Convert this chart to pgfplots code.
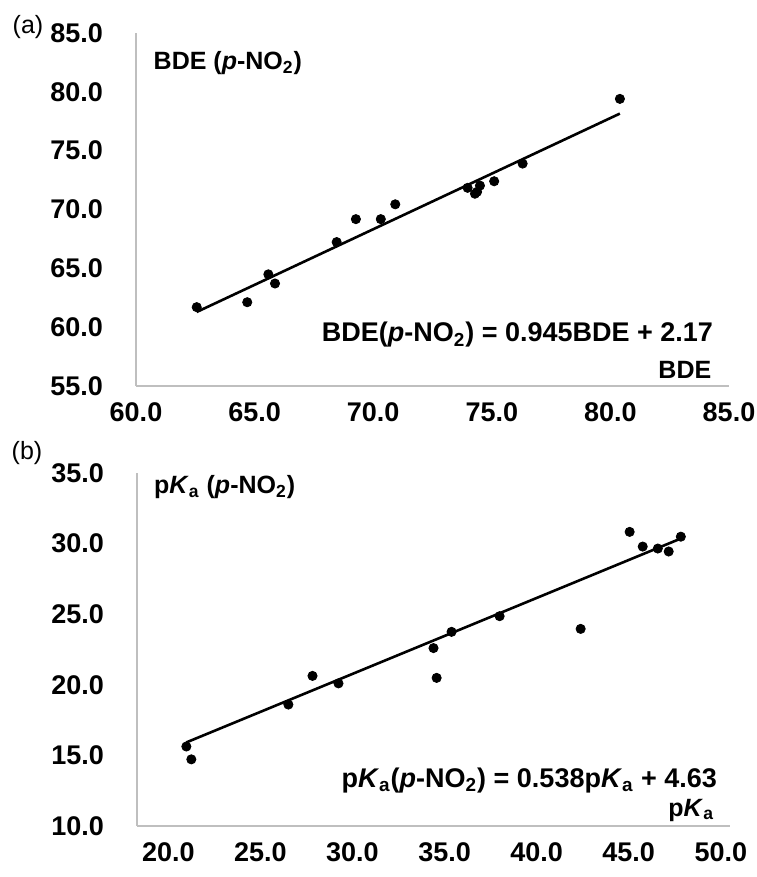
\documentclass[border=0pt]{standalone}
\usepackage{pgfplots}
\pgfplotsset{compat=1.18}
\usepackage{fontspec}
\setmainfont{Liberation Sans}
\definecolor{axgray}{RGB}{191,191,191}
\begin{document}
\begin{tikzpicture}
\useasboundingbox (0pt,0pt) rectangle (378pt,438.5pt);
\pgfplotsset{
 myax/.style={
  scale only axis,
  axis x line*=bottom, axis y line*=left,
  axis line style={draw=axgray, line width=0.6pt, -},
  major tick length=0pt,
  tick label style={font=\fontsize{13.5}{15}\selectfont\bfseries},
  xticklabel style={yshift=-5pt},
  yticklabel style={xshift=-13pt},
  clip=false,
  /pgf/number format/.cd, fixed, fixed zerofill, precision=1, assume math mode=true,
 }
}
\node[font=\fontsize{12.5}{14}\selectfont] at (14pt,425pt) {(a)};
\node[font=\fontsize{12.5}{14}\selectfont] at (13.5pt,212pt) {(b)};
\begin{axis}[myax, at={(68pt,245.5pt)}, anchor=south west, width=296.5pt, height=176.5pt,
  xmin=60, xmax=85, ymin=55, ymax=85, xtick={60,65,...,85}, ytick={55,60,...,85}]
\addplot[only marks, mark=*, mark size=2.3pt, black] coordinates {
(62.56,61.70) (64.69,62.12) (65.58,64.49) (65.86,63.71) (68.46,67.23)
(69.27,69.18) (70.32,69.18) (70.93,70.44) (73.98,71.84) (74.50,72.03)
(74.29,71.34) (74.38,71.50) (75.10,72.40) (76.30,73.90) (80.40,79.40)};
\addplot[black, line width=1.3pt, no marks] coordinates {(62.56,61.29) (80.40,78.15)};
\node[anchor=west, font=\fontsize{12.5}{14}\selectfont\bfseries] at (rel axis cs:0.018,0.916) {BDE (\textit{p}-NO\textsubscript{2})};
\node[anchor=east, font=\fontsize{13.5}{15}\selectfont\bfseries] at (rel axis cs:0.985,0.145) {BDE(\textit{p}-NO\textsubscript{2}) = 0.945BDE + 2.17};
\node[anchor=east, font=\fontsize{12.5}{14}\selectfont\bfseries] at (rel axis cs:0.982,0.045) {BDE};
\end{axis}
\begin{axis}[myax, at={(68.5pt,25.5pt)}, anchor=south west, width=296.5pt, height=176.5pt,
  xmin=18.3, xmax=50.5, ymin=10, ymax=35, xtick={20,25,...,50}, ytick={10,15,...,35}]
\addplot[only marks, mark=*, mark size=2.3pt, black] coordinates {
(20.98,15.63) (21.25,14.72) (26.52,18.60) (27.83,20.63) (29.24,20.10)
(34.40,22.60) (34.57,20.49) (35.38,23.75) (37.99,24.86) (42.39,23.96)
(45.05,30.83) (45.76,29.79) (46.58,29.65) (47.17,29.44) (47.83,30.49)};
\addplot[black, line width=1.3pt, no marks] coordinates {(20.98,15.92) (47.83,30.36)};
\node[anchor=west, font=\fontsize{12.5}{14}\selectfont\bfseries] at (rel axis cs:0.017,0.96) {p\textit{K}\textsubscript{a} (\textit{p}-NO\textsubscript{2})};
\node[anchor=east, font=\fontsize{13.5}{15}\selectfont\bfseries] at (rel axis cs:0.99,0.13) {p\textit{K}\textsubscript{a}(\textit{p}-NO\textsubscript{2}) = 0.538p\textit{K}\textsubscript{a} + 4.63};
\node[anchor=east, font=\fontsize{12.5}{14}\selectfont\bfseries] at (rel axis cs:0.985,0.045) {p\textit{K}\textsubscript{a}};
\end{axis}
\end{tikzpicture}
\end{document}
